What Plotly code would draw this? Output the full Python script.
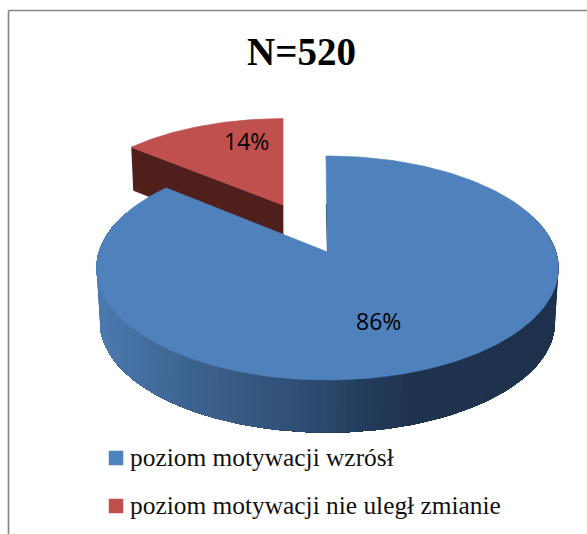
import numpy as np
import plotly.graph_objects as go

# Data
categories = ["poziom motywacji wzrósł", "poziom motywacji nie uległ zmianie"]
values = [86, 14]
percent_labels = ["86%", "14%"]
title_text = "N=520"
colors = ["#4F81BD", "#C0504D"]

# Projection of the tilted pie (canvas pixels used as axis units)
W, H = 587, 534
CX, CY = 327.5, 252.0
RX, RY, K = 228.6, 109.7, 1 / 7
DEPTH, BOTTOM_SCALE = 54.5, 0.985
RED_CX, RED_CY, RED_FX, RED_FY = 283.0, 205.0, 0.94, 0.90
RED_DEPTH = 43.0
RED_WALL = "#4F1F1C"
WALL_STOPS_X = [100, 110, 190, 257, 323, 377, 423, 560]
WALL_STOPS_RGB = [(0x4B, 0x79, 0xAE), (0x4A, 0x76, 0xAB), (0x3D, 0x64, 0x91), (0x35, 0x58, 0x7F),
                  (0x2D, 0x4A, 0x6E), (0x22, 0x3A, 0x58), (0x1F, 0x32, 0x4E), (0x1E, 0x32, 0x4D)]


def project(theta, cx=CX, cy=CY, fx=1.0, fy=1.0):
    u, v = np.sin(theta), np.cos(theta)
    s = 1 / (1 + K * v)
    return cx + RX * fx * u * s, cy - RY * fy * v * s


def wall_color(x):
    rgb = [np.interp(x, WALL_STOPS_X, [c[i] for c in WALL_STOPS_RGB]) for i in range(3)]
    return "rgb(%d,%d,%d)" % tuple(int(round(c)) for c in rgb)


def polygon(xs, ys, color, name=None, line_width=0.7):
    return go.Scatter(x=list(xs), y=list(ys), mode="lines", fill="toself", fillcolor=color,
                      line=dict(color=color, width=line_width), hoverinfo="skip", name=name or "",
                      showlegend=False)


total = sum(values)
split = 2 * np.pi * values[0] / total
fig = go.Figure()

# Red wedge: wall, then face
t_red = np.linspace(split, 2 * np.pi, 60)
rx, ry = project(t_red, RED_CX, RED_CY, RED_FX, RED_FY)
fig.add_trace(polygon([rx[0], RED_CX, RED_CX, rx[0] + 2], [ry[0], RED_CY, RED_CY + RED_DEPTH + 2, ry[0] + RED_DEPTH],
                      RED_WALL))
fig.add_trace(polygon(np.r_[RED_CX, rx, RED_CX], np.r_[RED_CY, ry, RED_CY], colors[1], categories[1]))

# Blue outer wall: painter's order, each band reaches to the far end so no seams show
edges = np.linspace(np.radians(70), np.radians(292), 110)
for i in range(len(edges) - 1):
    seg = edges[i:]
    tx, ty = project(seg)
    bx, by = project(seg[::-1], CX, CY + DEPTH, BOTTOM_SCALE, BOTTOM_SCALE)
    fig.add_trace(polygon(np.r_[tx, bx, tx[0]], np.r_[ty, by, ty[0]], wall_color(tx[0]), line_width=0))

# Dark sliver of the cut face beside the gap
top_x, top_y = project(0.0)
fig.add_trace(go.Scatter(x=[CX - 1.2, CX], y=[(top_y + CY) / 2, CY], mode="lines",
                         line=dict(color="#1E324D", width=1), hoverinfo="skip", showlegend=False))

# Blue face
t_blue = np.linspace(0, split, 240)
bx, by = project(t_blue)
bx[:2] -= 1.5
fig.add_trace(polygon(np.r_[CX, bx, CX], np.r_[CY, by, CY], colors[0], categories[0]))

# Legend rows
legend_y = [458, 506]
fig.add_trace(go.Scatter(x=[116, 116], y=legend_y, mode="markers",
                         marker=dict(symbol="square", size=14.5, color=colors, line=dict(width=0)),
                         hoverinfo="skip", showlegend=False))

annotations = [
    dict(x=301, y=51, text="<b>%s</b>" % title_text, font=dict(family="Liberation Serif", size=39, color="#000000")),
    dict(x=378.5, y=321, text=percent_labels[0], font=dict(family="Open Sans", size=23, color="#000000")),
    dict(x=246, y=141, text=percent_labels[1], font=dict(family="Open Sans", size=23, color="#000000")),
]
for cat, y in zip(categories, legend_y):
    annotations.append(dict(x=129, y=y - 1, text=cat, xanchor="left",
                            font=dict(family="Liberation Serif", size=25.4, color="#111111")))
for a in annotations:
    a.update(xref="x", yref="y", showarrow=False, borderpad=0)

fig.update_layout(
    width=W, height=H, margin=dict(l=0, r=0, t=0, b=0),
    paper_bgcolor="#FFFFFF", plot_bgcolor="#FFFFFF", showlegend=False,
    xaxis=dict(range=[0, W], visible=False, fixedrange=True),
    yaxis=dict(range=[H, 0], visible=False, fixedrange=True),
    annotations=annotations,
    shapes=[dict(type="line", xref="x", yref="y", x0=8.5, y0=H, x1=8.5, y1=10.5,
                 line=dict(color="#868686", width=1.6)),
            dict(type="line", xref="x", yref="y", x0=8.5, y0=10.5, x1=W, y1=10.5,
                 line=dict(color="#868686", width=1.6))],
)

fig.write_html("out.html", config={"displayModeBar": False},
               post_script="document.body.style.margin='0';document.body.style.overflow='hidden';")
